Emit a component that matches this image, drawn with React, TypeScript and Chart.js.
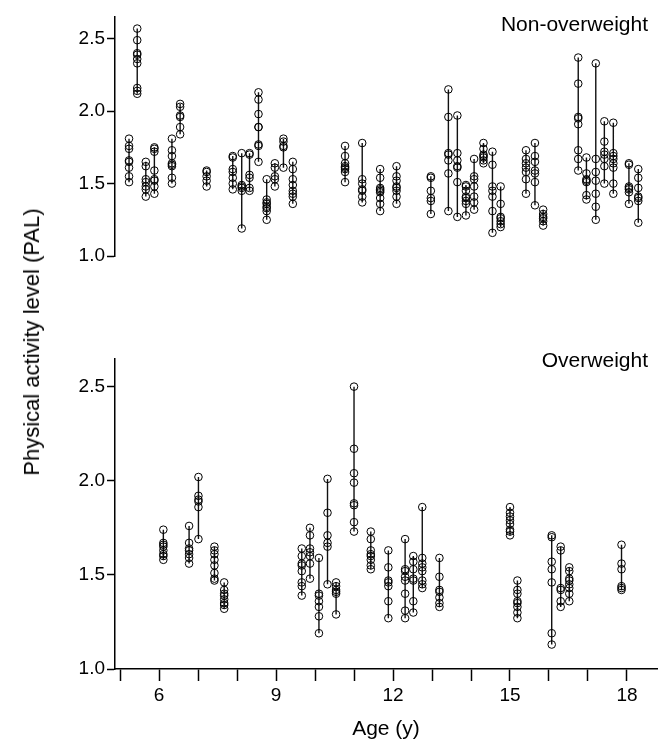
import React, { useEffect, useRef } from 'react';
import { Chart, registerables } from 'chart.js';
Chart.register(...registerables);

const FONT = "'Liberation Sans', Arial, Helvetica, sans-serif";

// Non-overweight panel: age of each subject and their PAL measurements
const topAges = [5.23, 5.44, 5.66, 5.88, 6.33, 6.54, 7.22, 7.89, 8.12, 8.32, 8.55, 8.76, 8.97, 9.19, 9.43,
  10.77, 11.21, 11.67, 12.09, 12.97, 13.42, 13.65, 13.87, 14.08, 14.32, 14.55, 14.76, 15.41, 15.64, 15.85,
  16.75, 16.96, 17.2, 17.42, 17.65, 18.05, 18.29];
const topPal = [
  [1.81, 1.76, 1.74, 1.66, 1.65, 1.61, 1.55, 1.51],
  [2.57, 2.49, 2.40, 2.39, 2.36, 2.33, 2.16, 2.14, 2.12],
  [1.65, 1.62, 1.53, 1.51, 1.48, 1.46, 1.41],
  [1.75, 1.74, 1.72, 1.59, 1.53, 1.52, 1.48, 1.43],
  [1.81, 1.73, 1.69, 1.64, 1.63, 1.62, 1.54, 1.50],
  [2.05, 2.03, 1.97, 1.96, 1.89, 1.84],
  [1.59, 1.58, 1.55, 1.52, 1.48],
  [1.69, 1.68, 1.60, 1.58, 1.54, 1.50, 1.46],
  [1.71, 1.49, 1.48, 1.47, 1.45, 1.19],
  [1.71, 1.70, 1.56, 1.54, 1.47, 1.45],
  [2.13, 2.08, 1.98, 1.89, 1.89, 1.77, 1.76, 1.65],
  [1.53, 1.39, 1.37, 1.36, 1.34, 1.33, 1.31, 1.25],
  [1.64, 1.61, 1.55, 1.53, 1.48],
  [1.81, 1.79, 1.76, 1.75, 1.61],
  [1.65, 1.60, 1.53, 1.49, 1.45, 1.43, 1.41, 1.36],
  [1.76, 1.69, 1.64, 1.62, 1.61, 1.60, 1.58, 1.51],
  [1.78, 1.53, 1.50, 1.46, 1.45, 1.41, 1.37],
  [1.60, 1.54, 1.47, 1.46, 1.45, 1.44, 1.40, 1.36, 1.31],
  [1.62, 1.55, 1.52, 1.48, 1.47, 1.45, 1.41, 1.36],
  [1.55, 1.54, 1.45, 1.40, 1.38, 1.29],
  [2.15, 1.96, 1.71, 1.70, 1.66, 1.57, 1.31],
  [1.97, 1.71, 1.66, 1.62, 1.61, 1.51, 1.27],
  [1.49, 1.48, 1.45, 1.41, 1.40, 1.38, 1.36, 1.28],
  [1.67, 1.55, 1.53, 1.48, 1.41, 1.37, 1.32],
  [1.78, 1.74, 1.70, 1.69, 1.68, 1.66, 1.64],
  [1.72, 1.63, 1.48, 1.45, 1.41, 1.31, 1.16],
  [1.48, 1.36, 1.27, 1.26, 1.24, 1.22, 1.20],
  [1.73, 1.67, 1.64, 1.61, 1.58, 1.53, 1.43],
  [1.78, 1.69, 1.65, 1.59, 1.57, 1.51, 1.35],
  [1.32, 1.29, 1.27, 1.26, 1.24, 1.21],
  [2.37, 2.19, 1.96, 1.95, 1.91, 1.73, 1.67, 1.59],
  [1.68, 1.57, 1.53, 1.52, 1.51, 1.42, 1.39],
  [2.33, 1.67, 1.58, 1.52, 1.43, 1.34, 1.25],
  [1.93, 1.79, 1.72, 1.70, 1.67, 1.62, 1.50],
  [1.92, 1.71, 1.69, 1.67, 1.64, 1.61, 1.50, 1.43],
  [1.64, 1.63, 1.48, 1.47, 1.46, 1.44, 1.36],
  [1.60, 1.54, 1.47, 1.41, 1.40, 1.38, 1.23],
];

// Overweight panel
const botAges = [6.11, 6.77, 7.01, 7.42, 7.67, 9.66, 9.87, 10.10, 10.32, 10.54, 11.0, 11.43, 11.88, 12.31,
  12.52, 12.75, 13.19, 15.0, 15.19, 16.07, 16.30, 16.52, 17.86];
const botPal = [
  [1.74, 1.67, 1.66, 1.65, 1.63, 1.61, 1.60, 1.58],
  [1.76, 1.67, 1.64, 1.63, 1.61, 1.59, 1.56],
  [2.02, 1.92, 1.90, 1.89, 1.86, 1.69],
  [1.65, 1.63, 1.61, 1.58, 1.55, 1.51, 1.48, 1.47],
  [1.46, 1.42, 1.40, 1.39, 1.37, 1.35, 1.34, 1.32],
  [1.64, 1.60, 1.56, 1.55, 1.52, 1.46, 1.44, 1.39],
  [1.75, 1.71, 1.64, 1.62, 1.60, 1.56, 1.48],
  [1.59, 1.40, 1.39, 1.36, 1.33, 1.28, 1.19],
  [2.01, 1.83, 1.71, 1.67, 1.65, 1.45],
  [1.46, 1.44, 1.42, 1.41, 1.40, 1.29],
  [2.50, 2.17, 2.04, 1.99, 1.88, 1.87, 1.78, 1.73],
  [1.73, 1.69, 1.63, 1.61, 1.60, 1.58, 1.55, 1.53],
  [1.63, 1.54, 1.47, 1.46, 1.44, 1.36, 1.27],
  [1.69, 1.53, 1.52, 1.49, 1.47, 1.40, 1.31, 1.27],
  [1.60, 1.57, 1.53, 1.48, 1.47, 1.36, 1.30],
  [1.86, 1.59, 1.56, 1.54, 1.52, 1.47, 1.45, 1.43],
  [1.59, 1.49, 1.42, 1.41, 1.38, 1.35, 1.33],
  [1.86, 1.83, 1.81, 1.79, 1.77, 1.74, 1.73, 1.71],
  [1.47, 1.42, 1.40, 1.36, 1.35, 1.33, 1.30, 1.27],
  [1.71, 1.70, 1.57, 1.53, 1.46, 1.19, 1.13],
  [1.65, 1.63, 1.43, 1.42, 1.36, 1.33],
  [1.54, 1.52, 1.48, 1.47, 1.45, 1.43, 1.40, 1.36],
  [1.66, 1.56, 1.53, 1.44, 1.43, 1.42],
];

const yTicks = [1.0, 1.5, 2.0, 2.5];
const xTicks = [5, 6, 7, 8, 9, 10, 11, 12, 13, 14, 15, 16, 17, 18];
const xLabels = [6, 9, 12, 15, 18];
const xMin = 4.87;
const xMax = 18.77;
const yMin = 1.0;
const yMax = 2.65;

function buildPoints(ages: number[], pal: number[][]) {
  const pts: { x: number; y: number | null }[] = [];
  ages.forEach((a, i) => {
    pal[i].forEach((v) => pts.push({ x: a, y: v }));
    pts.push({ x: a, y: null });
  });
  return pts;
}

function makeConfig(ages: number[], pal: number[][], showX: boolean): any {
  return {
    type: 'scatter',
    data: {
      datasets: [
        {
          data: buildPoints(ages, pal),
          showLine: true,
          spanGaps: false,
          borderColor: '#111',
          borderWidth: 1.4,
          pointRadius: 3.8,
          pointBorderWidth: 1,
          pointBorderColor: '#000',
          pointBackgroundColor: 'rgba(0,0,0,0)',
          pointStyle: 'circle',
        },
      ],
    },
    options: {
      responsive: false,
      animation: false,
      layout: {
        padding: showX
          ? { top: 7, right: 10, bottom: 0, left: 0 }
          : { top: 17, right: 10, bottom: 13, left: 0 },
      },
      plugins: { legend: { display: false }, tooltip: { enabled: false } },
      scales: {
        x: {
          type: 'linear',
          min: xMin,
          max: xMax,
          display: showX,
          afterBuildTicks: (a: any) => {
            a.ticks = xTicks.map((v) => ({ value: v }));
          },
          afterFit: (a: any) => {
            a.height = 76;
          },
          grid: { drawOnChartArea: false, tickLength: 12, color: '#000', tickWidth: 1.5 },
          border: { display: true, color: '#000', width: 1.5 },
          ticks: {
            color: '#000',
            font: { size: 19, family: FONT },
            padding: 3,
            maxRotation: 0,
            autoSkip: false,
            callback: (v: any) => (xLabels.includes(Number(v)) ? String(v) : ''),
          },
          title: {
            display: true,
            text: 'Age (y)',
            color: '#000',
            font: { size: 21, family: FONT },
            padding: { top: 0, bottom: 3 },
          },
        },
        y: {
          type: 'linear',
          min: yMin,
          max: yMax,
          afterBuildTicks: (a: any) => {
            a.ticks = yTicks.map((v) => ({ value: v }));
          },
          afterFit: (a: any) => {
            a.width = 115;
          },
          grid: { drawOnChartArea: false, tickLength: 8, color: '#000', tickWidth: 1.5 },
          border: { display: true, color: '#000', width: 1.5 },
          ticks: {
            color: '#000',
            font: { size: 19, family: FONT },
            padding: 2,
            callback: (v: any) => Number(v).toFixed(1),
          },
        },
      },
    },
  };
}

function Panel({ ages, pal, showX, top, height }: any) {
  const ref = useRef<HTMLCanvasElement>(null);
  useEffect(() => {
    if (!ref.current) return;
    const chart = new Chart(ref.current, makeConfig(ages, pal, showX));
    return () => chart.destroy();
  }, []);
  return (
    <canvas
      ref={ref}
      width={667}
      height={height}
      style={{ position: 'absolute', left: 0, top, width: 667, height, display: 'block' }}
    />
  );
}

export default function App() {
  return (
    <div style={{ position: 'absolute', left: 0, top: 0, width: 667, height: 745, background: '#fff', fontFamily: FONT }}>
      <Panel ages={topAges} pal={topPal} showX={false} top={0} height={345} />
      <Panel ages={botAges} pal={botPal} showX={true} top={345} height={400} />
      <div style={{ position: 'absolute', right: 19, top: 12, fontSize: 21, color: '#000', whiteSpace: 'nowrap' }}>
        Non-overweight
      </div>
      <div style={{ position: 'absolute', right: 19, top: 348, fontSize: 21, color: '#000', whiteSpace: 'nowrap' }}>
        Overweight
      </div>
      <div
        style={{
          position: 'absolute',
          left: 32,
          top: 342,
          transform: 'translate(-50%, -50%) rotate(-90deg)',
          fontSize: 22,
          color: '#000',
          whiteSpace: 'nowrap',
        }}
      >
        Physical activity level (PAL)
      </div>
    </div>
  );
}
